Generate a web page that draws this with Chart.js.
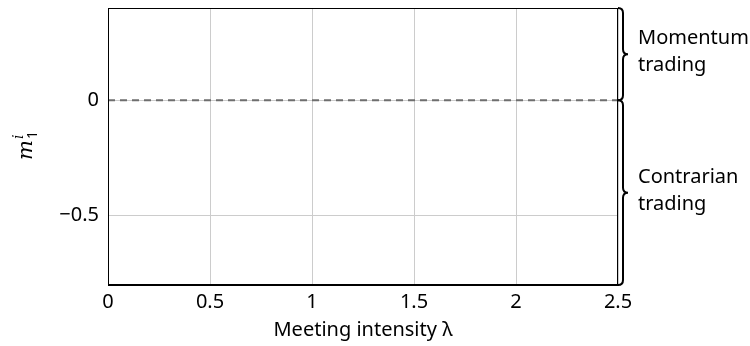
<!DOCTYPE html>
<html>
<head>
<meta charset="utf-8">
<script src="https://cdn.jsdelivr.net/npm/chart.js@4/dist/chart.umd.min.js"></script>
<style>
  html, body { margin: 0; padding: 0; background: #fff; }
  #c { display: block; }
</style>
</head>
<body>
<canvas id="c" width="750" height="346"></canvas>
<script>
// ---- data ----
const xValues = [0, 2.5];
const zeroLine = [0, 0];
const xTicks = [0, 0.5, 1, 1.5, 2, 2.5];
const yTicks = [-0.5, 0];
const xRange = [0, 2.5];
const yRange = [-0.8, 0.4];
const braceBounds = [[0, 0.4], [-0.8, 0]];
const braceLabels = [["Momentum", "trading"], ["Contrarian", "trading"]];
const xTitle = "Meeting intensity \u03BB";

const FONT = "'Noto Sans', sans-serif";
const fmt = v => (v < 0 ? "\u2212" + String(Math.abs(v)) : String(v));

const decorPlugin = {
  id: 'decor',
  afterDraw(chart) {
    const ctx = chart.ctx;
    const a = chart.chartArea;
    const ys = chart.scales.y;
    ctx.save();
    // full frame
    ctx.strokeStyle = '#000';
    ctx.lineWidth = 1;
    ctx.strokeRect(a.left + 0.5, a.top + 0.5, a.right - a.left - 1, a.bottom - a.top - 1);

    // braces
    ctx.lineWidth = 2;
    ctx.strokeStyle = '#000';
    const x0 = a.right;
    const w = 10;
    braceBounds.forEach((b, i) => {
      const y1 = ys.getPixelForValue(b[1]);
      const y2 = ys.getPixelForValue(b[0]);
      const ym = (y1 + y2) / 2;
      const r = 5;
      const xm = x0 + w / 2;
      ctx.beginPath();
      ctx.moveTo(x0, y1);
      ctx.quadraticCurveTo(xm, y1, xm, y1 + r);
      ctx.lineTo(xm, ym - r);
      ctx.quadraticCurveTo(xm, ym, x0 + w, ym);
      ctx.quadraticCurveTo(xm, ym, xm, ym + r);
      ctx.lineTo(xm, y2 - r);
      ctx.quadraticCurveTo(xm, y2, x0, y2);
      ctx.stroke();

      ctx.fillStyle = '#000';
      ctx.font = "20px " + FONT;
      ctx.textAlign = 'left';
      ctx.textBaseline = 'middle';
      const lh = 27;
      const lines = braceLabels[i];
      const startY = ym - (lines.length - 1) * lh / 2 - 2;
      lines.forEach((t, k) => ctx.fillText(t, a.right + 20, startY + k * lh));
    });

    // y-axis title m_1^i
    ctx.translate(32, 160);
    ctx.rotate(-Math.PI / 2);
    ctx.fillStyle = '#000';
    ctx.textAlign = 'left';
    ctx.textBaseline = 'alphabetic';
    ctx.font = "italic 21px 'DejaVu Serif', serif";
    ctx.fillText("m", 0, 0);
    const mw = ctx.measureText("m").width;
    ctx.font = "italic 14px 'DejaVu Serif', serif";
    ctx.fillText("i", mw + 1, -9);
    ctx.font = "14px " + FONT;
    ctx.fillText("1", mw + 1, 5);
    ctx.restore();
  }
};

new Chart(document.getElementById('c'), {
  type: 'line',
  data: {
    datasets: [{
      data: xValues.map((x, i) => ({ x: x, y: zeroLine[i] })),
      borderColor: '#6e6e6e',
      borderWidth: 2,
      borderDash: [7, 5],
      pointRadius: 0,
      fill: false
    }]
  },
  options: {
    responsive: false,
    animation: false,
    layout: { padding: { left: 0, right: 132, top: 8, bottom: 0 } },
    plugins: { legend: { display: false }, tooltip: { enabled: false } },
    scales: {
      x: {
        type: 'linear',
        min: xRange[0],
        max: xRange[1],
        afterBuildTicks: s => { s.ticks = xTicks.map(v => ({ value: v })); },
        afterFit: s => { s.height = 61; s.paddingLeft = 0; s.paddingRight = 0; },
        ticks: { callback: v => fmt(v), color: '#000', font: { family: FONT, size: 20 }, padding: 5, maxRotation: 0 },
        grid: { color: '#cccccc', lineWidth: 1, drawTicks: false },
        border: { display: true, color: '#000', width: 1 },
        title: { display: true, text: xTitle, color: '#000', font: { family: FONT, size: 20 }, padding: { top: 0, bottom: 4 } }
      },
      y: {
        type: 'linear',
        min: yRange[0],
        max: yRange[1],
        afterBuildTicks: s => { s.ticks = yTicks.map(v => ({ value: v })); },
        afterFit: s => { s.width = 108; s.paddingTop = 0; s.paddingBottom = 0; },
        ticks: { callback: v => fmt(v), color: '#000', font: { family: FONT, size: 20 }, padding: 9 },
        grid: { color: '#cccccc', lineWidth: 1, drawTicks: false },
        border: { display: true, color: '#000', width: 1 }
      }
    }
  },
  plugins: [decorPlugin]
});
</script>
</body>
</html>
